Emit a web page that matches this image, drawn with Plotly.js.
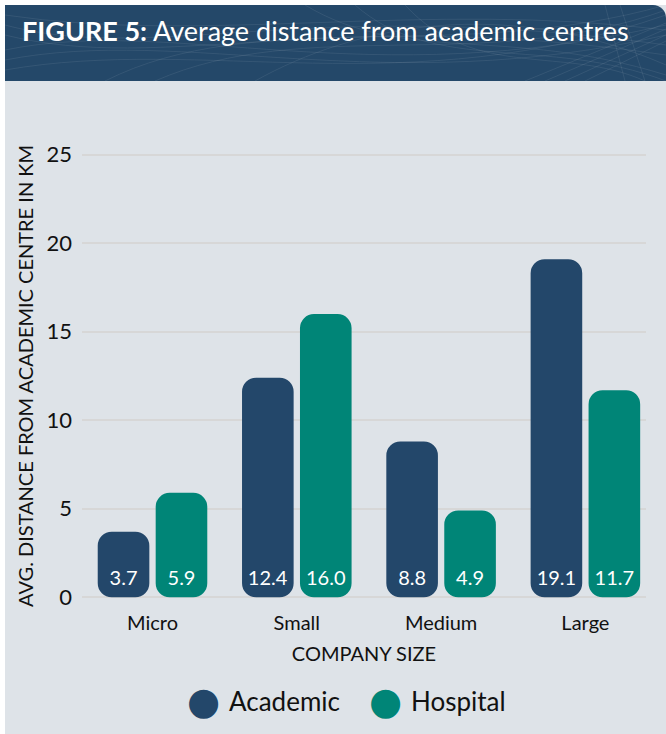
<!DOCTYPE html>
<html><head><meta charset="utf-8">
<script src="https://cdn.plot.ly/plotly-3.0.1.min.js"></script>
<style>
html,body{margin:0;padding:0;background:#fff;width:666px;height:734px;overflow:hidden}
#panel{position:absolute;left:5px;top:5px;width:661px;height:729px;background:#dee3e8}
#header{position:absolute;left:5px;top:5px;width:661px;height:76px;background:#244869;border-top-right-radius:13px;overflow:hidden}
#header svg{position:absolute;left:0;top:0}
#chart{position:absolute;left:0;top:0;width:666px;height:734px}
</style></head><body>
<div id="panel"></div>
<div id="header">
<svg width="661" height="76" viewBox="0 0 661 76">
<g fill="none" stroke="#ffffff" stroke-opacity="0.10" stroke-width="0.8">
<path d="M0 20 C150 60 300 -10 661 40"/>
<path d="M0 30 C160 70 320 0 661 50"/>
<path d="M0 45 C170 10 360 90 661 20"/>
<path d="M0 55 C180 20 380 95 661 30"/>
<path d="M0 65 C200 30 400 100 661 10"/>
<path d="M100 76 C250 0 450 60 661 0"/>
<path d="M150 76 C300 10 480 70 661 5"/>
<path d="M300 0 C400 60 500 20 661 70"/>
<path d="M350 0 C430 70 540 30 661 76"/>
<path d="M400 0 C470 76 560 40 640 76"/>
<path d="M250 76 C350 20 500 -10 661 60"/>
<path d="M0 10 C200 40 420 -5 661 25"/>
<path d="M520 76 L661 18"/>
<path d="M540 76 L661 24"/>
<path d="M560 76 L661 30"/>
<path d="M580 76 L661 36"/>
<path d="M600 0 L620 76"/>
<path d="M615 0 L640 76"/>
</g></svg>
</div>
<div id="chart"></div>
<script>
// ---- data ----
const categories = ['Micro', 'Small', 'Medium', 'Large'];
const seriesNames = ['Academic', 'Hospital'];
const academic = [3.7, 12.4, 8.8, 19.1];
const hospital = [5.9, 16.0, 4.9, 11.7];
const yTicks = [0, 5, 10, 15, 20, 25];
const titleText = '<b>FIGURE 5:</b> Average distance from academic centres';
const yTitle = 'AVG. DISTANCE FROM ACADEMIC CENTRE IN KM';
const xTitle = 'COMPANY SIZE';

// ---- style ----
const colors = ['#23476a', '#008577'];
const offsets = [-0.3796, 0.022];
const barW = 0.3576;
const labelBand = 2.3;   // height (in axis units) of the band in which the value label is centred
const FONT = 'Lato, "Open Sans", sans-serif';
const W = 666, H = 734;
const M = {l: 82, r: 20, t: 153, b: 135};

const allSeries = [academic, hospital];
const traces = [];
allSeries.forEach((vals, i) => {
  traces.push({
    type: 'bar', x: categories, y: vals, base: vals.map(() => 0),
    width: barW, offset: offsets[i], name: seriesNames[i],
    marker: {color: colors[i], cornerradius: 14, line: {width: 0}},
    hovertemplate: seriesNames[i] + ' %{x}: %{y:.1f}<extra></extra>', showlegend: false
  });
});
allSeries.forEach((vals, i) => {
  traces.push({
    type: 'bar', x: categories, y: vals.map(() => labelBand),
    width: barW, offset: offsets[i], name: seriesNames[i] + ' labels',
    marker: {color: 'rgba(0,0,0,0)', line: {width: 0}},
    text: vals.map(v => v.toFixed(1)), textposition: 'inside', insidetextanchor: 'middle',
    textangle: 0, constraintext: 'none',
    textfont: {family: FONT, size: 20, color: '#ffffff'},
    hoverinfo: 'skip', showlegend: false
  });
});

const pw = W - M.l - M.r, ph = H - M.t - M.b;
const px = x => (x - M.l) / pw;
const py = y => (H - M.b - y) / ph;

const legendPos = [{c: 203, t: 227}, {c: 385, t: 409}];
const annotations = [];
seriesNames.forEach((n, i) => {
  annotations.push({xref: 'paper', yref: 'paper', x: px(legendPos[i].c), y: py(701),
    xanchor: 'center', yanchor: 'middle', showarrow: false,
    text: '●', font: {family: 'DejaVu Sans', size: 38, color: colors[i]}});
  annotations.push({xref: 'paper', yref: 'paper', x: px(legendPos[i].t), y: py(701),
    xanchor: 'left', yanchor: 'middle', showarrow: false,
    text: n, font: {family: FONT, size: 26, color: '#111111'}});
});

const layout = {
  width: W, height: H,
  margin: M,
  paper_bgcolor: 'rgba(0,0,0,0)', plot_bgcolor: 'rgba(0,0,0,0)',
  barmode: 'overlay',
  showlegend: false,
  font: {family: FONT, color: '#111111'},
  title: {text: titleText, font: {family: FONT, size: 27, color: '#ffffff'},
    xref: 'container', yref: 'container', x: 22 / W, xanchor: 'left', y: 1 - 32 / H, yanchor: 'middle'},
  xaxis: {type: 'category', range: [-0.4886, 3.42], showgrid: false, zeroline: false, showline: false,
    ticks: '', tickfont: {family: FONT, size: 20, color: '#111111'}, ticklabelstandoff: 10,
    title: {text: xTitle, font: {family: FONT, size: 20, color: '#111111'}, standoff: 13}},
  yaxis: {range: [-0.1, 25.1], tickvals: yTicks, ticktext: yTicks.map(String),
    showgrid: true, gridcolor: '#d7d7d7', gridwidth: 2, zeroline: false, showline: false,
    ticks: '', tickfont: {family: FONT, size: 22, color: '#111111'}, ticklabelstandoff: 9,
    title: {text: yTitle, font: {family: FONT, size: 20, color: '#111111'}, standoff: 7}},
  annotations: annotations
};

Plotly.newPlot('chart', traces, layout, {displayModeBar: false, staticPlot: true});
</script>
</body></html>
